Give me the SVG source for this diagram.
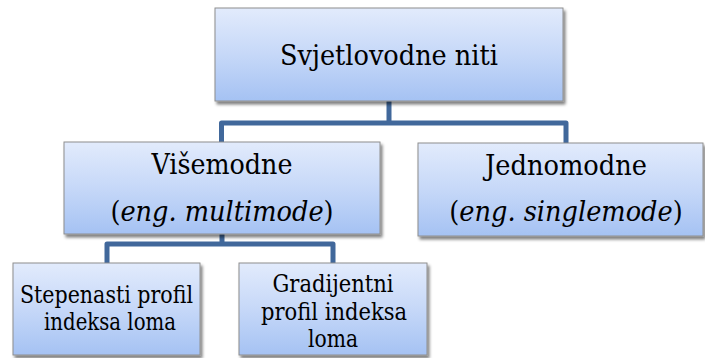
<svg xmlns="http://www.w3.org/2000/svg" width="705" height="358" viewBox="0 0 705 358">
<defs>
<linearGradient id="g" x1="0" y1="0" x2="0" y2="1">
<stop offset="0" stop-color="#e2ebfc"/>
<stop offset="0.5" stop-color="#c6d8f8"/>
<stop offset="1" stop-color="#a5c2f3"/>
</linearGradient>
<filter id="sh" x="-10%" y="-10%" width="120%" height="130%">
<feGaussianBlur in="SourceAlpha" stdDeviation="1.5"/>
<feOffset dx="1.5" dy="2.5" result="b"/>
<feComponentTransfer><feFuncA type="linear" slope="0.5"/></feComponentTransfer>
<feMerge><feMergeNode/><feMergeNode in="SourceGraphic"/></feMerge>
</filter>
</defs>
<style>
.box{fill:url(#g);stroke:#8e8e8e;stroke-width:1;filter:url(#sh)}
.c{fill:none;stroke:#41689b;stroke-width:5;stroke-linejoin:round}
.t{font-family:"DejaVu Serif Condensed","DejaVu Serif",serif;fill:#000;text-anchor:middle}
.big{font-size:28.5px}
.sm{font-size:24px}
.i{font-style:italic}
</style>
<rect width="705" height="358" fill="#fff"/>
<g id="connectors">
<path class="c" d="M389,101 V123 M221.5,143 V123 H566 V143"/>
<path class="c" d="M222,234 V244 M107,263 V244 H333 V263"/>
</g>
<g id="n-root">
<rect class="box" x="215" y="8" width="348" height="93"/>
<text class="t big" x="389" y="65" textLength="218" lengthAdjust="spacingAndGlyphs">Svjetlovodne niti</text>
</g>
<g id="n-multi">
<rect class="box" x="64" y="142" width="316" height="92"/>
<text class="t big" x="222" y="174" textLength="141" lengthAdjust="spacingAndGlyphs">Višemodne</text>
<text class="t big" x="222" y="221">(<tspan class="i">eng. multimode</tspan>)</text>
</g>
<g id="n-single">
<rect class="box" x="418" y="143" width="285" height="93"/>
<text class="t big" x="566" y="175" textLength="162" lengthAdjust="spacingAndGlyphs">Jednomodne</text>
<text class="t big" x="566" y="221">(<tspan class="i">eng. singlemode</tspan>)</text>
</g>
<g id="n-step">
<rect class="box" x="13" y="263" width="187" height="92"/>
<text class="t sm" x="106.5" y="303" textLength="173" lengthAdjust="spacingAndGlyphs">Stepenasti profil</text>
<text class="t sm" x="110" y="330" textLength="132" lengthAdjust="spacingAndGlyphs">indeksa loma</text>
</g>
<g id="n-grad">
<rect class="box" x="239" y="263" width="188" height="92"/>
<text class="t sm" x="333" y="292" textLength="121" lengthAdjust="spacingAndGlyphs">Gradijentni</text>
<text class="t sm" x="334" y="320" textLength="146" lengthAdjust="spacingAndGlyphs">profil indeksa</text>
<text class="t sm" x="333" y="347" textLength="50" lengthAdjust="spacingAndGlyphs">loma</text>
</g>
</svg>
